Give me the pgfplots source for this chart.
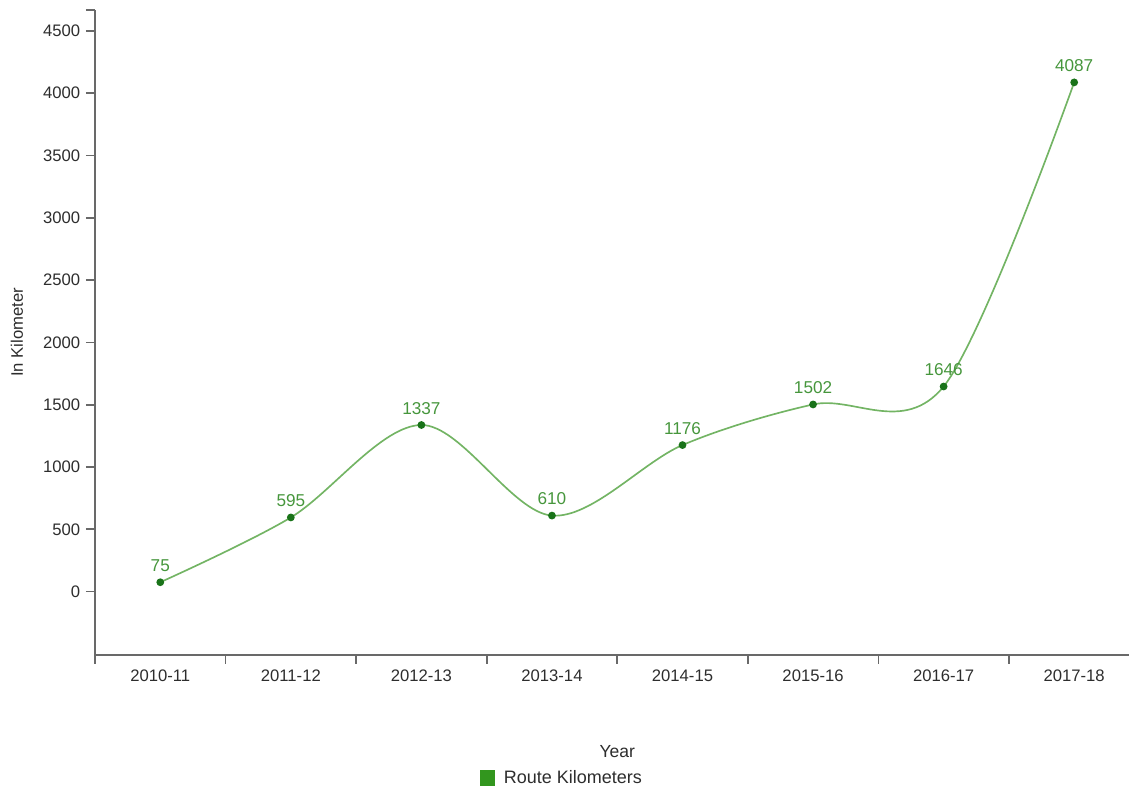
\documentclass[border=0pt]{standalone}
\usepackage{fontspec}
\setmainfont{Liberation Sans}
\setsansfont{Liberation Sans}
\usepackage{pgfplots}
\pgfplotsset{compat=1.18}
\definecolor{linegreen}{RGB}{115,180,100}
\definecolor{markgreen}{RGB}{25,115,25}
\definecolor{labelgreen}{RGB}{70,150,60}
\definecolor{legendgreen}{RGB}{50,150,30}
\definecolor{axisgray}{RGB}{105,105,105}
\definecolor{textgray}{RGB}{45,45,45}
\begin{document}
\begin{tikzpicture}
\path[use as bounding box] (0,0) rectangle (677.4pt,473.4pt);
\begin{axis}[
  at={(57pt,80.4pt)}, anchor=south west,
  scale only axis, width=620.4pt, height=387pt,
  xmin=-0.5, xmax=7.42, ymin=-509, ymax=4668,
  axis x line*=bottom, axis y line*=left,
  axis line style={axisgray, line width=1.2pt, -},
  every tick/.style={axisgray, line width=1pt},
  every minor tick/.style={axisgray, line width=1pt},
  tick align=outside,
  major tick length=5.4pt, minor tick length=5.4pt,
  xtick={0,...,7},
  xticklabels={2010-11,2011-12,2012-13,2013-14,2014-15,2015-16,2016-17,2017-18},
  major x tick style={draw=none},
  minor xtick={-0.5,0.5,...,6.5},
  minor x tick style={axisgray, line width=1pt},
  ytick={0,500,...,4500},
  extra y ticks={4668}, extra y tick labels={},
  /pgf/number format/assume math mode=true,
  /pgf/number format/1000 sep={},
  ticklabel style={font=\fontsize{10pt}{12pt}\selectfont, text=textgray},
  xlabel={Year}, ylabel={In Kilometer},
  xlabel style={at={(rel axis cs:0.505,0)}, anchor=center, yshift=-58pt, font=\fontsize{10.5pt}{12pt}\selectfont, text=textgray},
  ylabel style={at={(rel axis cs:0,0.5)}, anchor=center, yshift=46.8pt, font=\fontsize{10pt}{12pt}\selectfont, text=textgray},
  legend style={at={(rel axis cs:0.452,0)}, anchor=center, yshift=-73.8pt, draw=none, fill=none, font=\fontsize{10.8pt}{12pt}\selectfont, text=textgray},
  legend image code/.code={\path[draw=none,fill=none] (0pt,0pt) -- (12pt,0pt); \fill[legendgreen] (0pt,-4.2pt) rectangle (8.4pt,4.2pt);},
  nodes near coords,
  every node near coord/.append style={font=\fontsize{10.3pt}{12pt}\selectfont, text=labelgreen, anchor=south, yshift=2.5pt},
  clip=false,
]
\addplot[linegreen, line width=1pt, smooth, tension=0.55,
  mark=*, mark size=1.8pt, mark options={fill=markgreen, draw=markgreen}]
  coordinates {(0,75) (1,595) (2,1337) (3,610) (4,1176) (5,1502) (6,1646) (7,4087)};
\addlegendentry{Route Kilometers}
\end{axis}
\end{tikzpicture}
\end{document}
